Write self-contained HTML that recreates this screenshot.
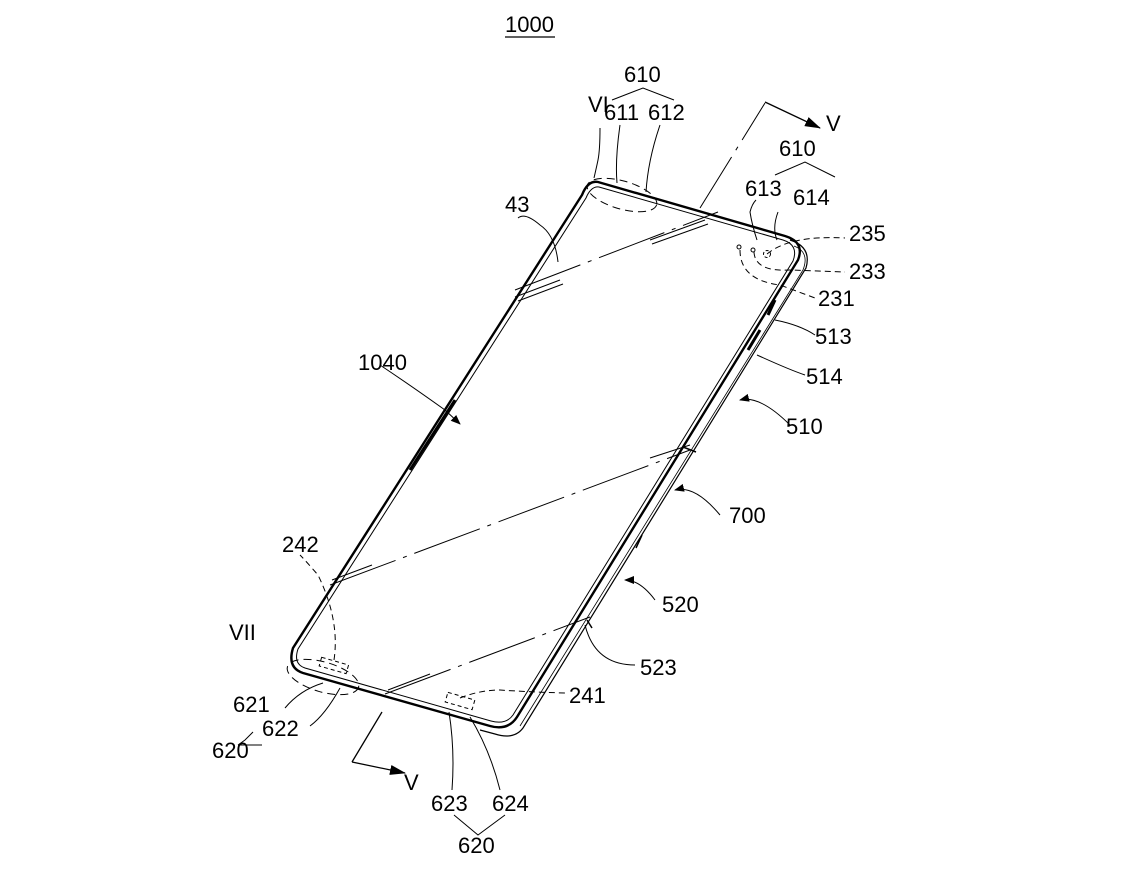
<!DOCTYPE html>
<html><head><meta charset="utf-8"><style>
html,body{margin:0;padding:0;background:#fff;}
svg{display:block}
text{font-family:"Liberation Sans",sans-serif;font-size:22px;fill:#000}
</style></head><body>
<svg width="1148" height="871" viewBox="0 0 1148 871" xmlns="http://www.w3.org/2000/svg">
<defs><marker id="a" markerWidth="10" markerHeight="8" refX="9" refY="4" orient="auto" markerUnits="userSpaceOnUse"><path d="M0,0 L10,4 L0,8 Z" fill="#000"/></marker>
<marker id="b" markerWidth="16" markerHeight="10" refX="15" refY="5" orient="auto" markerUnits="userSpaceOnUse"><path d="M0,0 L16,5 L0,10 Z" fill="#000"/></marker></defs>
<g fill="none" stroke="#000">
<path d="M598,182 L785,236 Q805,242 798,260 L517,717 Q508,731 490,726 L303,673 Q287,668 293,648 L582,195 Q588,180 598,182 Z" stroke-width="2.4"/>
<path d="M599,187 L783,240 Q799,245 793,261 L513,715 Q506,725 491,721 L305,668 Q293,664 298,649 L586,198 Q591,186 599,187 Z" stroke-width="1"/>
<path d="M790,240 Q812,247 806,268 L523,728 Q514,740 495,734 L480,730" stroke-width="1.2"/>
<path d="M794,246 Q810,252 803,270 L520,726" stroke-width="0.8"/>
<path d="M455,400 L410,470" stroke-width="3"/>
<path d="M683,447 L696,452 M642,535 L636,548 M587,620 L592,628" stroke-width="1.5"/>
<path d="M775,300 L768,315 M760,330 L748,350" stroke-width="3"/>
<path d="M515,297 L560,280 M518,301 L563,284 M650,240 L705,220 M652,244 L708,224" stroke-width="1"/>
<path d="M330,585 L690,450" stroke-width="1" stroke-dasharray="70,8,4,8"/>
<path d="M332,580 L372,565 M650,458 L690,445" stroke-width="1"/>
<path d="M385,694 L590,617" stroke-width="1" stroke-dasharray="70,8,4,8"/>
<path d="M388,690 L430,674" stroke-width="1"/>
<path d="M515,290 L718,212" stroke-width="1" stroke-dasharray="70,8,4,8"/>
<path d="M700,208 L765,103" stroke-width="1" stroke-dasharray="60,8,4,8"/>
<path d="M765,102 L820,128" stroke-width="1.3" marker-end="url(#b)"/>
<path d="M382,712 L352,762" stroke-width="1.3"/>
<path d="M352,762 L405,773" stroke-width="1.3" marker-end="url(#b)"/>
<ellipse cx="622" cy="195" rx="36" ry="14" transform="rotate(16 622 195)" stroke-dasharray="8,5"/>
<ellipse cx="323" cy="677" rx="37" ry="15" transform="rotate(16 323 677)" stroke-dasharray="8,5"/>
<rect x="320" y="661" width="28" height="9" transform="rotate(16 334 665)" stroke-dasharray="4,3"/>
<rect x="446" y="696" width="28" height="10" transform="rotate(16 460 701)" stroke-dasharray="4,3"/>
<circle cx="767" cy="254" r="3.5" stroke-dasharray="3,2"/>
<circle cx="739" cy="247" r="2"/><circle cx="753" cy="250" r="2"/>
<path d="M767,254 Q790,235 845,238" stroke-dasharray="6,4"/>
<path d="M754,252 Q755,272 790,270 L845,272" stroke-dasharray="6,4"/>
<path d="M740,250 Q740,280 780,285 L815,298" stroke-dasharray="6,4"/>
<path d="M334,660 Q340,620 318,575 Q305,560 300,555" stroke-dasharray="6,4"/>
<path d="M460,698 Q480,690 500,690 Q530,692 565,693" stroke-dasharray="6,4"/>
<path d="M594,178 Q597,165 598,160 Q600,150 600,128" stroke-width="1"/>
<path d="M617,183 Q615,160 620,125 M646,192 Q648,160 660,125" stroke-width="1"/>
<path d="M612,100 L643,88 L674,100" stroke-width="1"/>
<path d="M757,240 Q752,225 750,212 Q752,204 756,200 M777,240 Q772,228 778,212" stroke-width="1"/>
<path d="M775,175 L805,162 L835,177" stroke-width="1"/>
<path d="M558,262 Q555,235 540,225 Q525,212 518,218" stroke-width="1"/>
<path d="M775,320 Q800,325 815,335" stroke-width="1"/>
<path d="M757,355 Q790,370 805,375" stroke-width="1"/>
<path d="M323,683 Q300,690 285,708 M340,688 Q325,715 310,726" stroke-width="1"/>
<path d="M449,712 Q455,750 452,790 M470,717 Q490,750 500,790" stroke-width="1"/>
<path d="M238,745 L245,740 L253,732 M238,745 L262,745" stroke-width="1"/>
<path d="M454,815 L478,835 L505,815" stroke-width="1"/>
<path d="M585,625 Q595,665 635,665" stroke-width="1"/>
<path d="M380,365 Q410,385 445,410 L460,424" stroke-width="1" marker-end="url(#a)"/>
<path d="M790,425 Q760,395 740,400" stroke-width="1" marker-end="url(#a)"/>
<path d="M720,515 Q695,485 675,490" stroke-width="1" marker-end="url(#a)"/>
<path d="M655,600 Q640,580 625,580" stroke-width="1" marker-end="url(#a)"/>
<path d="M505,37 L555,37" stroke-width="1.3"/>
</g>
<text x="505" y="32">1000</text>
<text x="624" y="82">610</text>
<text x="604" y="120">611</text><text x="648" y="120">612</text>
<text x="588" y="112">VI</text>
<text x="826" y="131">V</text>
<text x="779" y="156">610</text>
<text x="745" y="196">613</text><text x="793" y="205">614</text>
<text x="505" y="212">43</text>
<text x="849" y="241">235</text>
<text x="849" y="279">233</text>
<text x="818" y="306">231</text>
<text x="815" y="344">513</text>
<text x="806" y="384">514</text>
<text x="786" y="434">510</text>
<text x="358" y="370">1040</text>
<text x="729" y="523">700</text>
<text x="662" y="612">520</text>
<text x="640" y="675">523</text>
<text x="282" y="552">242</text>
<text x="229" y="640">VII</text>
<text x="569" y="703">241</text>
<text x="233" y="712">621</text>
<text x="262" y="736">622</text>
<text x="212" y="758">620</text>
<text x="404" y="790">V</text>
<text x="431" y="811">623</text><text x="492" y="811">624</text>
<text x="458" y="853">620</text>
</svg>
</body></html>
